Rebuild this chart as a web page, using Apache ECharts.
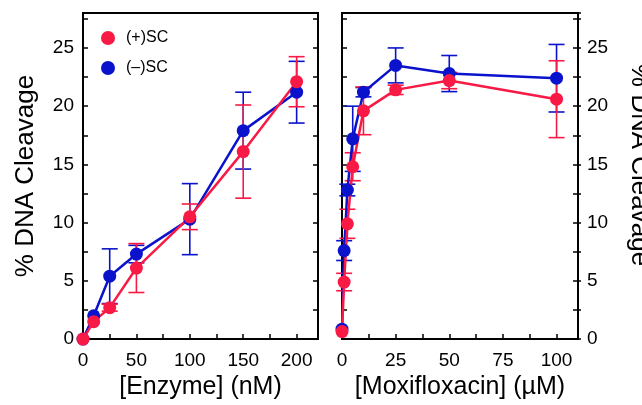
<!DOCTYPE html>
<html>
<head>
<meta charset="utf-8">
<script src="https://cdn.jsdelivr.net/npm/echarts@6/dist/echarts.min.js"></script>
<style>
html,body{margin:0;padding:0;background:#fff;}
#c{width:642px;height:405px;}
</style>
</head>
<body>
<div id="c"></div>
<script>
// ---- data ----
var enzymeX = [0, 10, 25, 50, 100, 150, 200];
var enzPlus = [0, 1.5, 2.7, 6.1, 10.5, 16.1, 22.1];
var enzPlusErr = [0, 0, 0.3, 2.1, 1.1, 4.0, 2.15];
var enzMinus = [0, 2.0, 5.4, 7.3, 10.3, 17.9, 21.2];
var enzMinusErr = [0, 0, 2.35, 0.75, 3.05, 3.3, 2.65];

var moxiX = [0, 1, 2.5, 5, 10, 25, 50, 100];
var moxPlus = [0.65, 4.9, 9.9, 14.8, 19.6, 21.4, 22.2, 20.6];
var moxPlusErr = [0, 0.75, 1.25, 1.2, 2.05, 0.4, 0.7, 3.3];
var moxMinus = [0.85, 7.6, 12.8, 17.2, 21.2, 23.5, 22.8, 22.4];
var moxMinusErr = [0, 0.85, 0.5, 2.8, 0.4, 1.5, 1.55, 2.9];

var plusName = '(+)SC';
var minusName = '(\u2013)SC';
var yTitle = '% DNA Cleavage';
var xTitleLeft = '[Enzyme] (nM)';
var xTitleRight = '[Moxifloxacin] (\u00b5M)';

var RED = '#F81A44';
var BLUE = '#0A12CC';
var FONT = 'Liberation Sans, Arial, sans-serif';

function pts(xs, ys) { return xs.map(function (x, i) { return [x, ys[i]]; }); }
function errs(xs, ys, es) { return xs.map(function (x, i) { return [x, ys[i] - es[i], ys[i] + es[i]]; }); }

function errSeries(data, color, xi, yi) {
  return {
    type: 'custom', xAxisIndex: xi, yAxisIndex: yi, z: 2, silent: true,
    encode: { x: 0, y: [1, 2] },
    data: data,
    renderItem: function (params, api) {
      var x = api.value(0), lo = api.value(1), hi = api.value(2);
      if (hi - lo <= 0) return null;
      var pl = api.coord([x, lo]), ph = api.coord([x, hi]);
      var hw = 8;
      var st = { stroke: color, lineWidth: 1.6 };
      return {
        type: 'group',
        children: [
          { type: 'line', shape: { x1: ph[0], y1: ph[1], x2: pl[0], y2: pl[1] }, style: st },
          { type: 'line', shape: { x1: ph[0] - hw, y1: ph[1], x2: ph[0] + hw, y2: ph[1] }, style: st },
          { type: 'line', shape: { x1: pl[0] - hw, y1: pl[1], x2: pl[0] + hw, y2: pl[1] }, style: st }
        ]
      };
    }
  };
}
function lineSeries(name, data, color, xi, yi) {
  return {
    type: 'line', name: name, xAxisIndex: xi, yAxisIndex: yi, z: 3, clip: false,
    data: data, symbol: 'circle', symbolSize: 13,
    lineStyle: { color: color, width: 2.5 },
    itemStyle: { color: color },
    emphasis: { disabled: true }
  };
}

var axisLine = { show: true, onZero: false, lineStyle: { color: '#000', width: 2 } };
var lbl = { color: '#000', fontSize: 19, fontFamily: FONT };

function xAx(gi, max, name, labStep, labMax) {
  return {
    type: 'value', gridIndex: gi, min: 0, max: max, interval: labStep / 2,
    axisLine: axisLine,
    axisTick: { show: true, inside: true, length: 5, lineStyle: { color: '#000', width: 1.5 } },
    axisLabel: Object.assign({ margin: 12, showMaxLabel: true, formatter: function (v) {
      return (Math.abs(v / labStep - Math.round(v / labStep)) < 1e-6 && v <= labMax) ? String(v) : '';
    } }, lbl),
    splitLine: { show: false },
    name: name, nameLocation: 'middle', nameGap: 32,
    nameTextStyle: { color: '#000', fontSize: 25, fontFamily: FONT }
  };
}
function yAx(gi, pos, showLabel, tickInside, tickLen, name) {
  var a = {
    type: 'value', gridIndex: gi, position: pos, min: 0, max: 28, interval: 2.5,
    axisLine: axisLine,
    axisTick: { show: true, inside: tickInside, length: tickLen, lineStyle: { color: '#000', width: 1.5 } },
    axisLabel: Object.assign({ show: showLabel, margin: 9, showMaxLabel: true, formatter: function (v) {
      return (Math.abs(v / 5 - Math.round(v / 5)) < 1e-6) ? String(v) : '';
    } }, lbl),
    splitLine: { show: false }
  };
  if (name) {
    a.name = name; a.nameLocation = 'middle'; a.nameGap = 44;
    a.nameTextStyle = { color: '#000', fontSize: 26, fontFamily: FONT };
  }
  return a;
}

var chart = echarts.init(document.getElementById('c'), null, { renderer: 'canvas' });
chart.setOption({
  animation: false,
  backgroundColor: '#fff',
  textStyle: { fontFamily: FONT },
  grid: [
    { left: 83, top: 13, width: 235, height: 332, show: true, borderColor: '#000', borderWidth: 2, backgroundColor: 'transparent' },
    { left: 342, top: 13, width: 236, height: 332, show: true, borderColor: '#000', borderWidth: 2, backgroundColor: 'transparent' }
  ],
  legend: {
    left: 101, top: 30, orient: 'vertical', padding: 0,
    itemWidth: 14, itemHeight: 14, itemGap: 14, icon: 'circle',
    data: [plusName, minusName],
    textStyle: { color: '#000', fontSize: 16, fontFamily: FONT, padding: [0, 0, 0, 6] },
    selectedMode: false
  },
  xAxis: [
    xAx(0, 220, xTitleLeft, 50, 200),
    xAx(1, 110, xTitleRight, 25, 100)
  ],
  yAxis: [
    yAx(0, 'left', true, true, 5, yTitle),
    yAx(0, 'right', false, true, 5),
    yAx(1, 'left', false, true, 5),
    yAx(1, 'right', true, false, 3),
    yAx(1, 'right', false, true, 5)
  ],
  graphic: [{
    type: 'text', x: 639, y: 165, rotation: -Math.PI / 2,
    style: { text: yTitle, fill: '#000', fontSize: 26, fontFamily: FONT,
      align: 'center', verticalAlign: 'middle', textAlign: 'center', textVerticalAlign: 'middle' }
  }],
  series: [
    errSeries(errs(enzymeX, enzMinus, enzMinusErr), BLUE, 0, 0),
    errSeries(errs(enzymeX, enzPlus, enzPlusErr), RED, 0, 0),
    errSeries(errs(moxiX, moxMinus, moxMinusErr), BLUE, 1, 3),
    errSeries(errs(moxiX, moxPlus, moxPlusErr), RED, 1, 3),
    lineSeries(minusName, pts(enzymeX, enzMinus), BLUE, 0, 0),
    lineSeries(plusName, pts(enzymeX, enzPlus), RED, 0, 0),
    lineSeries(minusName, pts(moxiX, moxMinus), BLUE, 1, 3),
    lineSeries(plusName, pts(moxiX, moxPlus), RED, 1, 3)
  ]
});
</script>
</body>
</html>
